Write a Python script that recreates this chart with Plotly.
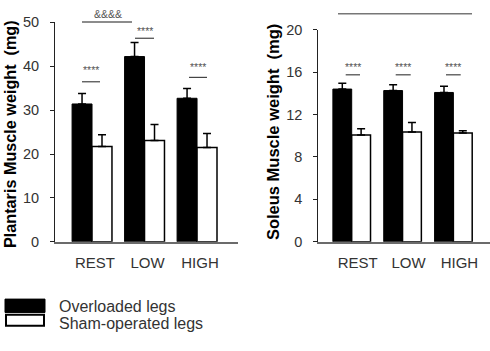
import plotly.graph_objects as go

W, H = 490, 351

groups = ["REST", "LOW", "HIGH"]

plantaris_overloaded = [31.4, 42.2, 32.7]
plantaris_overloaded_err = [2.4, 3.2, 2.2]
plantaris_sham = [21.7, 23.1, 21.5]
plantaris_sham_err = [2.7, 3.6, 3.2]

soleus_overloaded = [14.4, 14.26, 14.08]
soleus_overloaded_err = [0.55, 0.55, 0.58]
soleus_sham = [10.06, 10.36, 10.27]
soleus_sham_err = [0.6, 0.9, 0.21]

series_names = ["Overloaded legs", "Sham-operated legs"]
left_title = "Plantaris Muscle weight\u00a0\u00a0(mg)"
right_title = "Soleus Muscle weight\u00a0\u00a0(mg)"
star_label = "****"
amp_label = "&&&&"

FONT = "Liberation Sans, Arial, sans-serif"
TXT = "#333333"


def px(x):
    return x / W


def py(y):
    return 1 - y / H


fig = go.Figure()

panels = [
    ("x", "y", plantaris_overloaded, plantaris_overloaded_err,
     plantaris_sham, plantaris_sham_err, 0.38),
    ("x2", "y2", soleus_overloaded, soleus_overloaded_err,
     soleus_sham, soleus_sham_err, 0.37),
]

for xa, ya, ov, ove, sh, she, w in panels:
    fig.add_trace(go.Bar(
        x=groups, y=ov, xaxis=xa, yaxis=ya, name=series_names[0],
        offset=-w, width=w,
        marker=dict(color="black", line=dict(color="black", width=1)),
        error_y=dict(type="data", symmetric=False, array=ove,
                     arrayminus=[0] * len(ove), color="black",
                     thickness=1.5, width=4),
        showlegend=False,
    ))
    fig.add_trace(go.Bar(
        x=groups, y=sh, xaxis=xa, yaxis=ya, name=series_names[1],
        offset=0, width=w,
        marker=dict(color="white", line=dict(color="black", width=1.5)),
        error_y=dict(type="data", symmetric=False, array=she,
                     arrayminus=[0] * len(she), color="black",
                     thickness=1.5, width=4),
        showlegend=False,
    ))

axis_common = dict(showgrid=False, zeroline=False, showline=True)
xfont = dict(family=FONT, size=15, color=TXT)
yfont = dict(family=FONT, size=14.5, color=TXT)

fig.update_layout(
    width=W, height=H,
    margin=dict(l=0, r=0, t=0, b=0),
    paper_bgcolor="white", plot_bgcolor="white",
    barmode="overlay",
    showlegend=False,
    xaxis=dict(domain=[px(55), px(238)], range=[-0.705, 2.78],
               anchor="y", linecolor="#6b6b6b", linewidth=1.5,
               ticks="", ticklabelstandoff=6, ticklabelshift=3,
               tickfont=xfont, **axis_common),
    yaxis=dict(domain=[py(245), py(15)], range=[0, 50], dtick=10,
               anchor="x", linecolor="#222222", linewidth=1,
               ticks="outside", ticklen=4, tickcolor="#222222",
               ticklabelstandoff=8, tickfont=yfont,
               **axis_common),
    xaxis2=dict(domain=[px(318.3), 1.0], range=[-0.657, 2.72],
                anchor="y2", linecolor="#6b6b6b", linewidth=1.5,
                ticks="", ticklabelstandoff=6, ticklabelshift=6,
                tickfont=xfont, **axis_common),
    yaxis2=dict(domain=[py(245), py(22.7)], range=[0, 20], dtick=4,
                anchor="x2", linecolor="#222222", linewidth=1,
                ticks="outside", ticklen=4, tickcolor="#222222",
                ticklabelstandoff=8, tickfont=yfont,
                **axis_common),
)

shapes = []
annotations = []


def hline(x0, x1, y, color="#444444", width=1.2):
    shapes.append(dict(type="line", xref="paper", yref="paper",
                       x0=px(x0), x1=px(x1), y0=py(y), y1=py(y),
                       line=dict(color=color, width=width)))


def label(x, y, text, size=10.5, color="#555555"):
    annotations.append(dict(xref="paper", yref="paper", x=px(x), y=py(y),
                            text=text, showarrow=False,
                            font=dict(family=FONT, size=size, color=color),
                            xanchor="center", yanchor="middle"))


# Plantaris significance marks
for x0, x1, yl, ys in [(82, 100, 77.3, 65), (135, 154, 31.7, 24.5),
                       (189, 207, 72.7, 62)]:
    hline(x0, x1, yl)
    label((x0 + x1) / 2, ys, star_label)
hline(82, 132, 14.7, color="#666666", width=1.5)
label(108, 6.5, amp_label, size=10.5)

# Soleus significance marks
for x0, x1 in [(345.7, 360), (395.7, 410.7), (446, 460.7)]:
    hline(x0, x1, 70)
    label((x0 + x1) / 2, 61.5, star_label)
hline(338, 472, 6, color="#777777", width=1.5)

# Axis titles
annotations.append(dict(xref="paper", yref="paper", x=px(10.5), y=py(132.5),
                        text="<b>" + left_title + "</b>", textangle=-90,
                        showarrow=False,
                        font=dict(family=FONT, size=16.2, color="black"),
                        xanchor="center", yanchor="middle"))
annotations.append(dict(xref="paper", yref="paper", x=px(273), y=py(130),
                        text="<b>" + right_title + "</b>", textangle=-90,
                        showarrow=False,
                        font=dict(family=FONT, size=16.5, color="black"),
                        xanchor="center", yanchor="middle"))

# Legend (drawn manually)
shapes.append(dict(type="rect", xref="paper", yref="paper",
                   x0=px(5), x1=px(45), y0=py(319), y1=py(305),
                   fillcolor="black", line=dict(color="black", width=1)))
shapes.append(dict(type="rect", xref="paper", yref="paper",
                   x0=px(6), x1=px(44), y0=py(333), y1=py(321.5),
                   fillcolor="white", line=dict(color="black", width=2)))
for yy, name in [(312.5, series_names[0]), (331, series_names[1])]:
    annotations.append(dict(xref="paper", yref="paper", x=px(57), y=py(yy),
                            text=name, showarrow=False,
                            font=dict(family=FONT, size=16, color=TXT),
                            xanchor="left", yanchor="middle"))

fig.update_layout(shapes=shapes, annotations=annotations)

fig.write_html("out.html")
